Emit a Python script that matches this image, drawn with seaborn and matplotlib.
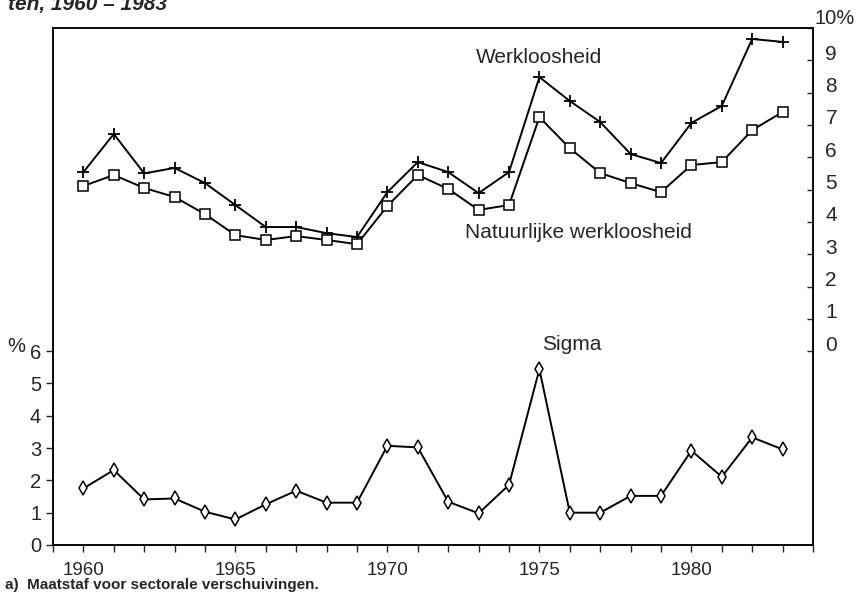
import matplotlib
matplotlib.use("Agg")
import matplotlib.pyplot as plt
import matplotlib.transforms as mtransforms
import seaborn as sns
import pandas as pd

years = list(range(1960, 1984))
werkloosheid = [5.54, 6.72, 5.50, 5.67, 5.20, 4.52, 3.84, 3.84, 3.65, 3.53,
                4.92, 5.85, 5.54, 4.89, 5.54, 8.48, 7.74, 7.09, 6.10, 5.82,
                7.06, 7.59, 9.66, 9.57]
natuurlijke = [5.11, 5.45, 5.05, 4.77, 4.24, 3.59, 3.44, 3.56, 3.44, 3.31,
               4.49, 5.45, 5.02, 4.37, 4.52, 7.24, 6.28, 5.51, 5.20, 4.92,
               5.76, 5.85, 6.84, 7.40]
sigma = [1.75, 2.32, 1.41, 1.44, 1.03, 0.79, 1.26, 1.68, 1.31, 1.31,
         3.07, 3.02, 1.34, 0.98, 1.86, 5.44, 1.00, 1.00, 1.52, 1.52,
         2.92, 2.11, 3.33, 2.96]
xtick_labels = ["1960", "1965", "1970", "1975", "1980"]
left_ticks = [0, 1, 2, 3, 4, 5, 6]
right_ticks = [0, 1, 2, 3, 4, 5, 6, 7, 8, 9, 10]
right_tick_labels = ["0", "1", "2", "3", "4", "5", "6", "7", "8", "9", ""]

df = pd.DataFrame({"jaar": years, "Werkloosheid": werkloosheid,
                   "Natuurlijke": natuurlijke, "Sigma": sigma})

sns.set_theme(style="white")
plt.rcParams["font.family"] = ["Liberation Sans", "DejaVu Sans"]

fig = plt.figure(figsize=(8.6, 6.0), dpi=100)
ax = fig.add_axes([53/860, 55/600, 760/860, 517/600])
ax2 = ax.twinx()

lw = 1.4
sns.lineplot(data=df, x="jaar", y="Sigma", ax=ax, color="black", linewidth=lw,
             marker="d", markersize=7.5, markerfacecolor="white",
             markeredgecolor="black", markeredgewidth=1.1)
sns.lineplot(data=df, x="jaar", y="Werkloosheid", ax=ax2, color="black", linewidth=lw,
             marker="+", markersize=8.5, markeredgewidth=1.3,
             markeredgecolor="black")
sns.lineplot(data=df, x="jaar", y="Natuurlijke", ax=ax2, color="black", linewidth=lw,
             marker="s", markersize=7.5, markerfacecolor="white",
             markeredgecolor="black", markeredgewidth=1.1)

ax.set_xlim(1959, 1984)
ax.set_ylim(0, 16)
ax2.set_ylim(-6, 10)

ax.set_xticks(list(range(1959, 1985)), minor=True)
ax.set_xticks([int(t) for t in xtick_labels])
ax.set_xticklabels(xtick_labels, fontsize=13.5)
ax.set_yticks(left_ticks)
ax.set_yticklabels([str(t) for t in left_ticks], fontsize=14.5)
ax2.set_yticks(right_ticks)
ax2.set_yticklabels(right_tick_labels, fontsize=15)

ax.tick_params(axis="x", which="both", direction="out", length=5, width=1, pad=7, bottom=True)
ax.tick_params(axis="y", direction="out", length=5, width=1, pad=3.5, left=True)
ax2.tick_params(axis="y", direction="in", length=4, width=1, pad=9, right=True)

for lab in ax2.get_yticklabels():
    lab.set_transform(lab.get_transform() +
                      mtransforms.ScaledTranslation(0, 8/100, fig.dpi_scale_trans))

for a in (ax, ax2):
    a.set_xlabel("")
    a.set_ylabel("")
    for s in a.spines.values():
        s.set_color("black")
        s.set_linewidth(1.1)

ax.text(1972.9, 15.08, "Werkloosheid", fontsize=15, ha="left", va="center")
ax.text(1972.55, 9.66, "Natuurlijke werkloosheid", fontsize=15, ha="left", va="center")
ax.text(1975.1, 6.19, "Sigma", fontsize=15, ha="left", va="center")

fig.text(16/860, 1 - 346/600, "%", fontsize=14.5, ha="center", va="center")
fig.text(815/860, 1 - 18/600, "10%", fontsize=14.5, ha="left", va="center")
fig.text(8/860, 1 - 10/600, "ten, 1960 – 1983", fontsize=15, fontstyle="italic",
         fontweight="bold", ha="left", va="baseline")
fig.text(5/860, 1 - 585/600, "a)  Maatstaf voor sectorale verschuivingen.",
         fontsize=11, fontweight="bold", ha="left", va="center")

fig.savefig("out.png", dpi=100)
